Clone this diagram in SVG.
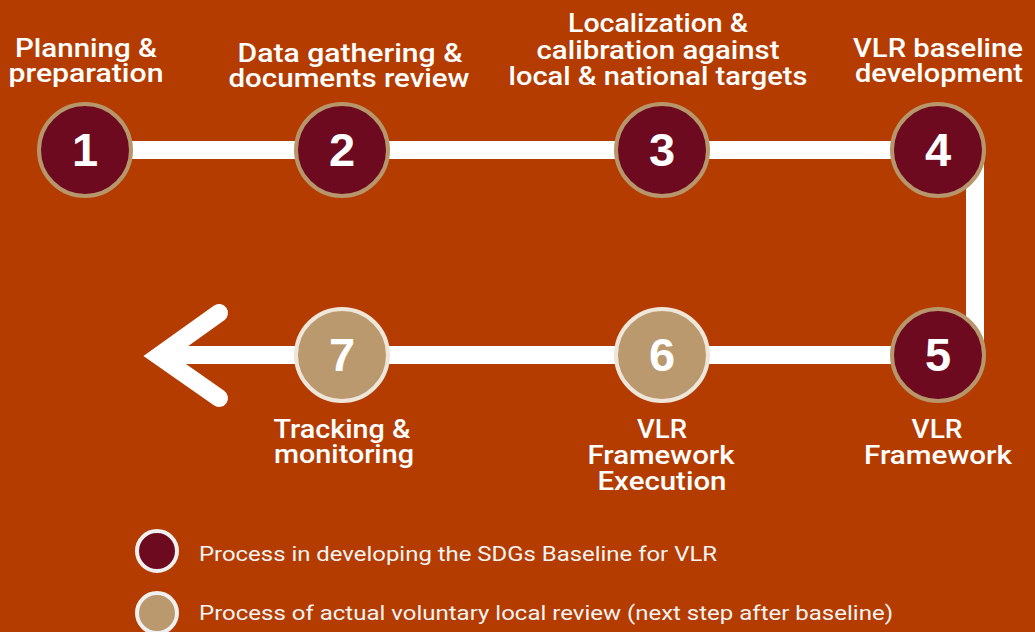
<svg xmlns="http://www.w3.org/2000/svg" width="1035" height="632" viewBox="0 0 1035 632">
<style>
.lbl{font-family:Roboto,"Liberation Sans",sans-serif;font-weight:500;font-size:25px;fill:#fff;text-anchor:middle}
.num{font-family:"Liberation Sans",Arial,sans-serif;font-weight:700;font-size:47px;fill:#fff;text-anchor:middle}
.dark{fill:#6D0A1F;stroke:#B8966B;stroke-width:4}
.leg{font-family:Roboto,"Liberation Sans",sans-serif;font-size:21px;fill:#F4F4F4}
.conn{fill:none;stroke:#fff;stroke-width:18}
</style>
<rect width="1035" height="632" fill="#B43C00"/>
<g id="connectors">
<path class="conn" d="M85 150 H975 V355 H159" stroke-linejoin="miter"/>
<path class="conn" d="M219 313 L159 356 L219 398" stroke-linecap="round" stroke-linejoin="miter"/>
</g>
<g id="node1"><circle class="dark" cx="85" cy="150" r="46"/><text class="num" x="85" y="166">1</text>
<text class="lbl" x="86" y="57" textLength="142" lengthAdjust="spacingAndGlyphs">Planning &amp;</text><text class="lbl" x="86" y="82" textLength="155" lengthAdjust="spacingAndGlyphs">preparation</text></g>
<g id="node2"><circle class="dark" cx="342" cy="150" r="46"/><text class="num" x="342" y="166">2</text>
<text class="lbl" x="350" y="62" textLength="225" lengthAdjust="spacingAndGlyphs">Data gathering &amp;</text><text class="lbl" x="349" y="87" textLength="241" lengthAdjust="spacingAndGlyphs">documents review</text></g>
<g id="node3"><circle class="dark" cx="662" cy="150" r="46"/><text class="num" x="662" y="166">3</text>
<text class="lbl" x="658" y="32" textLength="180" lengthAdjust="spacingAndGlyphs">Localization &amp;</text><text class="lbl" x="658" y="59" textLength="243" lengthAdjust="spacingAndGlyphs">calibration against</text><text class="lbl" x="658" y="85" textLength="299" lengthAdjust="spacingAndGlyphs">local &amp; national targets</text></g>
<g id="node4"><circle class="dark" cx="938" cy="150" r="46"/><text class="num" x="938" y="166">4</text>
<text class="lbl" x="938" y="57" textLength="170" lengthAdjust="spacingAndGlyphs">VLR baseline</text><text class="lbl" x="939" y="82" textLength="168" lengthAdjust="spacingAndGlyphs">development</text></g>
<g id="node5"><circle class="dark" cx="938" cy="355" r="46"/><text class="num" x="938" y="371">5</text>
<text class="lbl" x="937" y="438" textLength="51" lengthAdjust="spacingAndGlyphs">VLR</text><text class="lbl" x="938" y="464" textLength="148" lengthAdjust="spacingAndGlyphs">Framework</text></g>
<g id="node6"><circle class="dark" cx="662" cy="355" r="46" style="fill:#BB996E;stroke:#EFE6DA"/><text class="num" x="662" y="371">6</text>
<text class="lbl" x="662" y="438" textLength="50" lengthAdjust="spacingAndGlyphs">VLR</text><text class="lbl" x="661" y="464" textLength="147" lengthAdjust="spacingAndGlyphs">Framework</text><text class="lbl" x="662" y="490" textLength="129" lengthAdjust="spacingAndGlyphs">Execution</text></g>
<g id="node7"><circle class="dark" cx="342" cy="355" r="46" style="fill:#BB996E;stroke:#EFE6DA"/><text class="num" x="342" y="371">7</text>
<text class="lbl" x="342" y="438" textLength="137" lengthAdjust="spacingAndGlyphs">Tracking &amp;</text><text class="lbl" x="344" y="463" textLength="140" lengthAdjust="spacingAndGlyphs">monitoring</text></g>
<g id="legend">
<circle cx="157" cy="551" r="20" fill="#6D0A1F" stroke="#F0F0F0" stroke-width="4"/>
<text class="leg" x="199" y="561" textLength="518" lengthAdjust="spacingAndGlyphs">Process in developing the SDGs Baseline for VLR</text>
<circle cx="157" cy="613" r="20" fill="#BB996E" stroke="#F0F0F0" stroke-width="4"/>
<text class="leg" x="199" y="620" textLength="694" lengthAdjust="spacingAndGlyphs">Process of actual voluntary local review (next step after baseline)</text>
</g>
</svg>
